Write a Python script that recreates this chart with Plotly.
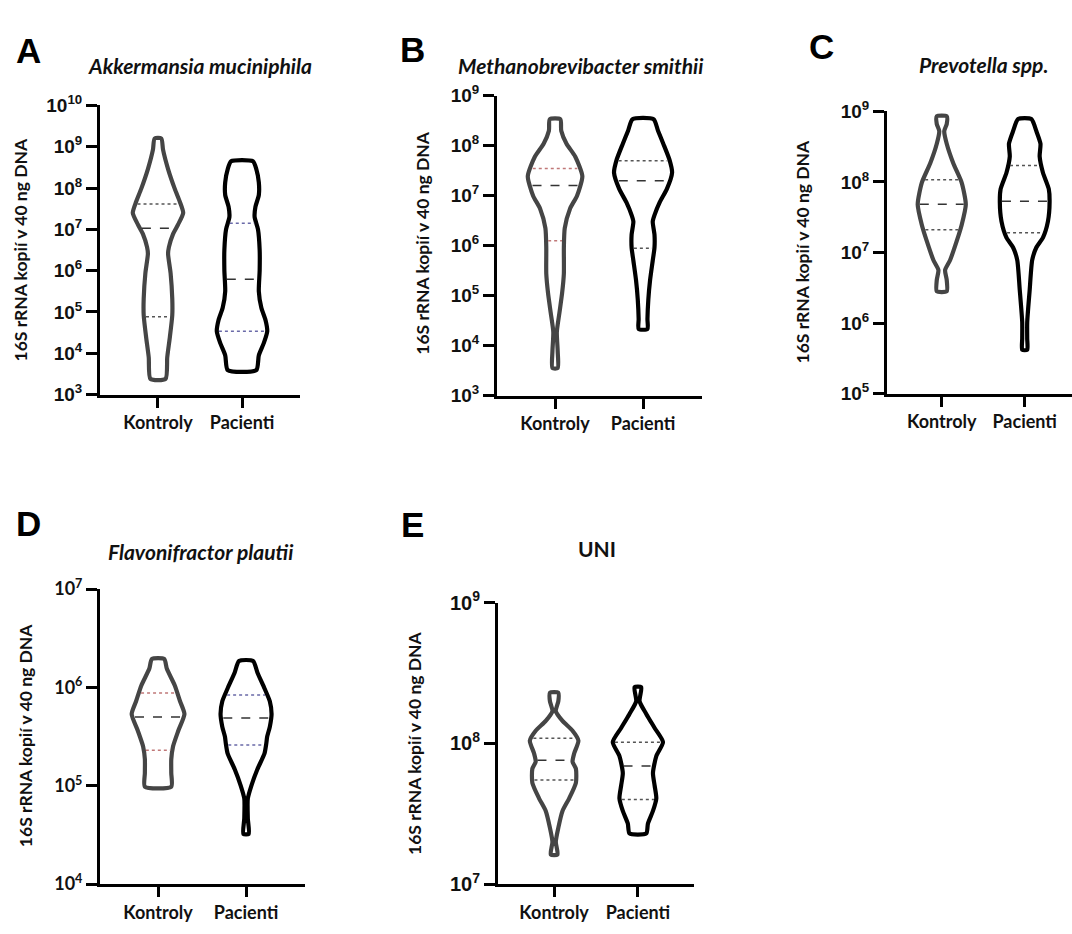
import numpy as np
import plotly.graph_objects as go

W, H = 1072, 934
categories = ["Kontroly", "Pacienti"]

# ---------------- data: violin outlines (log10 level, half-width in category units) ----------------
A_K_lvl = [9.2, 8.93, 8.46, 7.98, 7.67, 7.40, 7.12, 6.89, 6.57, 6.41, 5.94, 5.32, 4.92, 4.37, 3.90, 3.38]
A_K_w = [0.04, 0.06, 0.12, 0.20, 0.26, 0.30, 0.24, 0.18, 0.13, 0.12, 0.15, 0.17, 0.17, 0.14, 0.11, 0.09]
A_P_lvl = [8.65, 8.46, 8.14, 7.83, 7.55, 7.3, 7.0, 6.5, 6.0, 5.5, 5.1, 4.8, 4.53, 4.25, 3.95, 3.59]
A_P_w = [0.13, 0.17, 0.20, 0.20, 0.16, 0.15, 0.19, 0.21, 0.21, 0.20, 0.23, 0.28, 0.30, 0.26, 0.20, 0.17]

B_K_lvl = [8.53, 8.30, 8.04, 7.78, 7.39, 7.0, 6.74, 6.35, 5.96, 5.44, 5.05, 4.66, 4.27, 3.88, 3.55]
B_K_w = [0.06, 0.07, 0.13, 0.23, 0.31, 0.25, 0.17, 0.11, 0.10, 0.10, 0.08, 0.05, 0.02, 0.03, 0.03]
B_P_lvl = [8.53, 8.30, 8.04, 7.72, 7.46, 7.13, 6.87, 6.61, 6.48, 6.22, 5.96, 5.70, 5.31, 4.92, 4.53, 4.33]
B_P_w = [0.12, 0.17, 0.23, 0.30, 0.33, 0.27, 0.19, 0.13, 0.11, 0.13, 0.13, 0.11, 0.08, 0.06, 0.05, 0.05]

C_K_lvl = [8.93, 8.82, 8.72, 8.54, 8.26, 7.99, 7.68, 7.39, 7.16, 6.89, 6.75, 6.61, 6.45]
C_K_w = [0.06, 0.06, 0.03, 0.06, 0.14, 0.24, 0.29, 0.24, 0.18, 0.10, 0.04, 0.06, 0.06]
C_P_lvl = [8.89, 8.72, 8.54, 8.36, 8.13, 7.90, 7.71, 7.44, 7.21, 7.07, 6.89, 6.47, 6.01, 5.78, 5.62]
C_P_w = [0.08, 0.14, 0.19, 0.18, 0.22, 0.29, 0.30, 0.28, 0.22, 0.14, 0.09, 0.06, 0.03, 0.03, 0.03]

D_K_lvl = [6.29, 6.19, 6.02, 5.86, 5.73, 5.56, 5.40, 5.27, 5.13, 4.99]
D_K_w = [0.07, 0.10, 0.19, 0.25, 0.30, 0.23, 0.17, 0.15, 0.15, 0.15]
D_P_lvl = [6.27, 6.15, 5.99, 5.86, 5.73, 5.60, 5.50, 5.43, 5.33, 5.17, 5.0, 4.87, 4.67, 4.51]
D_P_w = [0.08, 0.13, 0.21, 0.27, 0.29, 0.27, 0.24, 0.23, 0.21, 0.13, 0.06, 0.02, 0.02, 0.03]

E_K_lvl = [8.36, 8.30, 8.23, 8.16, 8.09, 8.02, 7.93, 7.87, 7.82, 7.72, 7.61, 7.52, 7.40, 7.30, 7.21]
E_K_w = [0.05, 0.05, 0.02, 0.10, 0.22, 0.29, 0.24, 0.22, 0.26, 0.26, 0.18, 0.10, 0.05, 0.02, 0.04]
E_P_lvl = [8.40, 8.30, 8.21, 8.11, 8.01, 7.91, 7.79, 7.70, 7.61, 7.52, 7.43, 7.36]
E_P_w = [0.04, 0.02, 0.10, 0.20, 0.30, 0.22, 0.18, 0.20, 0.22, 0.18, 0.12, 0.10]

# ---------------- data: quartiles (Q1, median, Q3) ----------------
A_K_q = [7.6e4, 1.07e7, 4.1e7]
A_P_q = [3.4e4, 6.2e5, 1.4e7]
B_K_q = [1.25e6, 1.6e7, 3.5e7]
B_P_q = [8.9e5, 2.0e7, 5.0e7]
C_K_q = [2.1e7, 4.8e7, 1.07e8]
C_P_q = [1.9e7, 5.3e7, 1.7e8]
D_K_q = [2.3e5, 5.0e5, 8.8e5]
D_P_q = [2.6e5, 4.9e5, 8.4e5]
E_K_q = [5.5e7, 7.6e7, 1.09e8]
E_P_q = [4.0e7, 6.9e7, 1.02e8]

# ---------------- panel text ----------------
letters = ["A", "B", "C", "D", "E"]
titles = ["<i>Akkermansia muciniphila</i>", "<i>Methanobrevibacter smithii</i>",
          "<i>Prevotella spp.</i>", "<i>Flavonifractor plautii</i>", "UNI"]
y_title = "16S rRNA kopií v 40 ng DNA"
y_exp_ranges = [(3, 10), (3, 9), (5, 9), (4, 7), (7, 9)]

# ---------------- layout (pixel geometry) ----------------
geo = [
    dict(x=(100, 300), y=(94, 391), xr=(-0.69, 1.69), letter=(29, 37), title=(200, 53), yt=(20, 243), tfs=19, tff="Liberation Sans"),
    dict(x=(497, 702), y=(84, 392), xr=(-0.66, 1.67), letter=(412, 36), title=(581, 53), yt=(423, 236), tfs=19, tff="Liberation Sans"),
    dict(x=(887, 1072), y=(100, 390), xr=(-0.66, 1.57), letter=(821, 33), title=(983, 52), yt=(802, 245), tfs=19, tff="Liberation Sans"),
    dict(x=(100, 305), y=(591, 894), xr=(-0.66, 1.67), letter=(29, 523), title=(201, 552), yt=(25, 742), tfs=18, tff="Lato"),
    dict(x=(498, 694), y=(605, 894), xr=(-0.67, 1.67), letter=(412, 525), title=(597, 549), yt=(415, 750), tfs=20, tff="Liberation Sans"),
]

violins = [
    [(A_K_lvl, A_K_w, A_K_q), (A_P_lvl, A_P_w, A_P_q)],
    [(B_K_lvl, B_K_w, B_K_q), (B_P_lvl, B_P_w, B_P_q)],
    [(C_K_lvl, C_K_w, C_K_q), (C_P_lvl, C_P_w, C_P_q)],
    [(D_K_lvl, D_K_w, D_K_q), (D_P_lvl, D_P_w, D_P_q)],
    [(E_K_lvl, E_K_w, E_K_q), (E_P_lvl, E_P_w, E_P_q)],
]
outline_colors = ["#454545", "#000000"]
dot_colors = [["#555555", "#6a6aa8"], ["#c07878", "#555555"], ["#555555", "#555555"],
              ["#c07878", "#6a6aa8"], ["#555555", "#555555"]]

fig = go.Figure()

def px2x(p):
    return p / W

def py2y(p):
    return 1 - p / H

annotations = []
for i, g in enumerate(geo):
    sfx = "" if i == 0 else str(i + 1)
    xa, ya = "x" + sfx, "y" + sfx
    for j, (lvl, w, q) in enumerate(violins[i]):
        lvl = np.array(lvl, dtype=float)
        w = np.array(w, dtype=float)
        yv = 10 ** lvl
        xs = np.concatenate([j + w, (j - w)[::-1], [j + w[0]]])
        ys = np.concatenate([yv, yv[::-1], [yv[0]]])
        fig.add_trace(go.Scatter(x=xs, y=ys, mode="lines", xaxis=xa, yaxis=ya,
                                 line=dict(color=outline_colors[j], width=4.2, shape="spline", smoothing=0.6),
                                 hoverinfo="skip", showlegend=False))
        # quartile lines
        for k, qv in enumerate(q):
            half = np.interp(np.log10(qv), lvl[::-1], w[::-1]) - 0.025
            half = max(half, 0.005)
            fig.add_trace(go.Scatter(x=[j - half, j + half], y=[qv, qv], mode="lines",
                                     xaxis=xa, yaxis=ya,
                                     line=dict(color="#333333" if k == 1 else dot_colors[i][j],
                                               width=1.5, dash="dash" if k == 1 else "dot"),
                                     hoverinfo="skip", showlegend=False))
    lo, hi = y_exp_ranges[i]
    exps = list(range(lo, hi + 1))
    fig.update_layout(**{
        "xaxis" + sfx: dict(domain=[px2x(g["x"][0]), px2x(g["x"][1])], range=list(g["xr"]),
                            anchor=ya, tickvals=[0, 1], ticktext=categories,
                            showline=True, linecolor="black", linewidth=3,
                            ticks="outside", ticklen=10, tickwidth=3, tickcolor="black",
                            showgrid=False, zeroline=False,
                            tickfont=dict(family="Lato", size=18, color="#111", weight="bold")),
        "yaxis" + sfx: dict(domain=[py2y(g["y"][1]), py2y(g["y"][0])], type="log",
                            range=[lo, hi], anchor=xa,
                            tickvals=[10 ** e for e in exps],
                            ticktext=["10<sup>%d</sup>" % e for e in exps],
                            showline=True, linecolor="black", linewidth=3,
                            ticks="outside", ticklen=11, tickwidth=3, tickcolor="black",
                            showgrid=False, zeroline=False,
                            tickfont=dict(family=g["tff"], size=g["tfs"], color="#111", weight="bold")),
    })
    annotations.append(dict(text="<b>%s</b>" % letters[i], x=px2x(g["letter"][0]), y=py2y(g["letter"][1]),
                            xref="paper", yref="paper", xanchor="center", yanchor="middle", showarrow=False,
                            font=dict(family="Liberation Sans", size=35, color="black")))
    annotations.append(dict(text="<b>%s</b>" % titles[i], x=px2x(g["title"][0]), y=py2y(g["title"][1]),
                            xref="paper", yref="paper", xanchor="center", yanchor="middle", showarrow=False,
                            font=dict(family="Lato", size=21, color="#111")))
    annotations.append(dict(text="<b>%s</b>" % y_title, x=px2x(g["yt"][0]), y=py2y(g["yt"][1]),
                            xref="paper", yref="paper", xanchor="center", yanchor="middle", showarrow=False,
                            textangle=-90, font=dict(family="Lato", size=17.5, color="#111")))

fig.update_layout(width=W, height=H, margin=dict(l=0, r=0, t=0, b=0),
                  paper_bgcolor="white", plot_bgcolor="white",
                  annotations=annotations, showlegend=False)

fig.write_html("out.html")
